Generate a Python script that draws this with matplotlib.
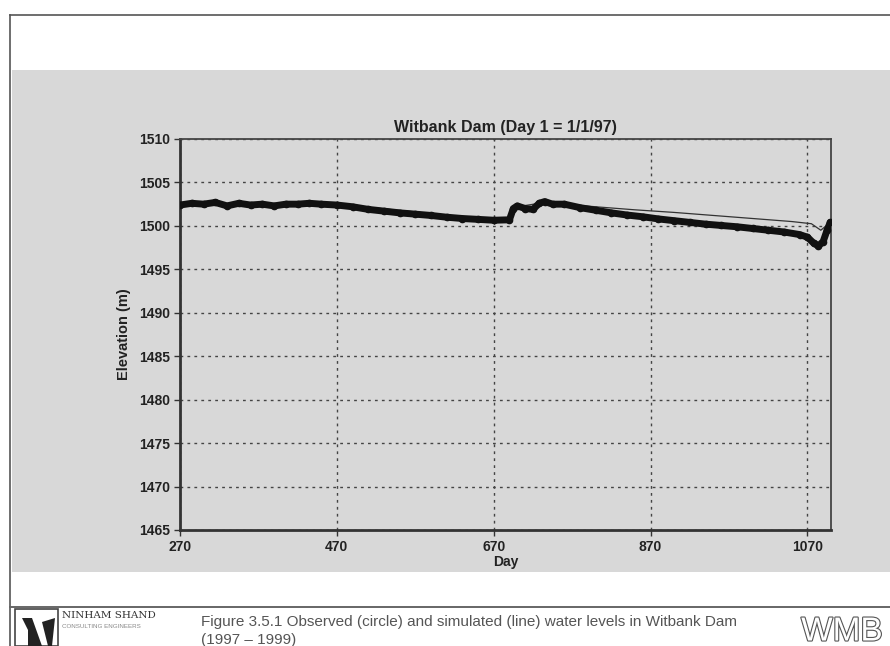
import matplotlib
matplotlib.use("Agg")
import matplotlib.pyplot as plt
from matplotlib.patches import Rectangle, Polygon
from matplotlib.lines import Line2D
import matplotlib.patheffects as pe

plt.rcParams['font.family'] = ['Liberation Sans', 'DejaVu Sans']

# Observed dam levels (circles)
obs_day = [270, 285, 300, 315, 330, 345, 360, 375, 390, 405, 420, 435, 450, 470,
           490, 510, 530, 550, 570, 590, 610, 630, 650, 670, 690, 695, 700, 710,
           720, 728, 735, 745, 760, 780, 800, 820, 840, 860, 880, 900, 920, 940,
           960, 980, 1000, 1020, 1040, 1060, 1070, 1078, 1084, 1090, 1095, 1099]
obs_elev = [1502.4, 1502.6, 1502.5, 1502.7, 1502.3, 1502.6, 1502.4, 1502.5, 1502.3,
            1502.5, 1502.5, 1502.6, 1502.5, 1502.4, 1502.2, 1501.9, 1501.7, 1501.5,
            1501.35, 1501.2, 1501.0, 1500.85, 1500.75, 1500.65, 1500.7, 1502.0,
            1502.3, 1502.0, 1501.9, 1502.6, 1502.8, 1502.5, 1502.5, 1502.1, 1501.8,
            1501.5, 1501.25, 1501.05, 1500.8, 1500.6, 1500.4, 1500.2, 1500.05,
            1499.9, 1499.7, 1499.5, 1499.3, 1499.0, 1498.7, 1498.0, 1497.7, 1498.2,
            1499.5, 1500.4]

# Simulated dam levels (line)
sim_day = [270, 470, 670, 690, 700, 735, 760, 800, 850, 900, 950, 1000, 1050,
           1075, 1087, 1099]
sim_elev = [1502.5, 1502.5, 1500.7, 1500.7, 1502.2, 1502.7, 1502.5, 1502.2,
            1501.85, 1501.55, 1501.2, 1500.85, 1500.5, 1500.25, 1499.5, 1500.4]

x_ticks = [270, 470, 670, 870, 1070]
y_ticks = [1465, 1470, 1475, 1480, 1485, 1490, 1495, 1500, 1505, 1510]

W, H = 890, 646
fig = plt.figure(figsize=(W / 100, H / 100), dpi=100)
fig.patch.set_facecolor('white')


def fx(px):
    return px / W


def fy(py):
    return 1 - py / H


# Page frame and shaded chart panel
fig.add_artist(Rectangle((fx(12), fy(572)), fx(878), (572 - 70) / H,
                         transform=fig.transFigure, facecolor='#d8d8d8',
                         edgecolor='none', zorder=0))
fig.add_artist(Line2D([fx(10), fx(890)], [fy(15), fy(15)], transform=fig.transFigure,
                      color='#555555', lw=1.2))
fig.add_artist(Line2D([fx(10), fx(10)], [fy(15), fy(646)], transform=fig.transFigure,
                      color='#555555', lw=1.2))
fig.add_artist(Line2D([fx(10), fx(890)], [fy(607), fy(607)], transform=fig.transFigure,
                      color='#666666', lw=1.4))

ax = fig.add_axes([fx(180), fy(530), (831 - 180) / W, (530 - 139) / H])
ax.set_facecolor('#d8d8d8')

ax.plot(sim_day, sim_elev, color='#333333', lw=0.9, zorder=3)
ax.plot(obs_day, obs_elev, color='#111111', lw=5.0, marker='o', markersize=4.5,
        markerfacecolor='#111111', markeredgecolor='#111111', zorder=4,
        solid_joinstyle='round', solid_capstyle='round')

ax.set_xlim(270, 1100)
ax.set_ylim(1465, 1510)
ax.set_xticks(x_ticks)
ax.set_yticks(y_ticks)
ax.tick_params(axis='both', labelsize=10, length=4, width=1, color='#333333',
               pad=3)
for lab in ax.get_xticklabels() + ax.get_yticklabels():
    lab.set_fontweight('bold')
    lab.set_color('#222222')

ax.grid(True, color='#444444', linestyle=(0, (2, 3)), lw=1.0)
ax.set_axisbelow(True)
for side in ['left', 'bottom']:
    ax.spines[side].set_linewidth(2.0)
    ax.spines[side].set_color('#333333')
for side in ['top', 'right']:
    ax.spines[side].set_linewidth(1.3)
    ax.spines[side].set_color('#444444')

ax.set_title('Witbank Dam (Day 1 = 1/1/97)', fontsize=11.5, fontweight='bold',
             color='#222222', pad=5)
ax.set_xlabel('Day', fontsize=10, fontweight='bold', color='#222222', labelpad=1)
ax.set_ylabel('Elevation (m)', fontsize=10.5, fontweight='bold', color='#222222',
              labelpad=6)

# Footer: consultant logo, caption and client mark
fig.add_artist(Rectangle((fx(15), fy(646)), fx(43), 37 / H, transform=fig.transFigure,
                         facecolor='white', edgecolor='#444444', lw=1.2))
fig.add_artist(Polygon([(fx(22), fy(618)), (fx(32), fy(618)), (fx(42), fy(646)),
                        (fx(28), fy(646)), (fx(28), fy(630))],
                       closed=True, transform=fig.transFigure,
                       facecolor='#222222', edgecolor='none'))
fig.add_artist(Polygon([(fx(42), fy(622)), (fx(55), fy(618)), (fx(52), fy(646)),
                        (fx(48), fy(646))],
                       closed=True, transform=fig.transFigure,
                       facecolor='#222222', edgecolor='none'))
fig.text(fx(62), fy(616), 'NINHAM SHAND', fontsize=7.5, family='DejaVu Serif',
         color='#333333', va='center', ha='left')
fig.text(fx(62), fy(627), 'CONSULTING ENGINEERS', fontsize=4.5, color='#888888',
         va='center', ha='left')
fig.text(fx(201), fy(622), 'Figure 3.5.1 Observed (circle) and simulated (line) '
         'water levels in Witbank Dam', fontsize=11, color='#555555',
         va='center', ha='left')
fig.text(fx(201), fy(640), '(1997 \u2013 1999)', fontsize=11, color='#555555',
         va='center', ha='left')
fig.text(fx(842), fy(632), 'WMB', fontsize=24, color='white', va='center',
         ha='center',
         path_effects=[pe.withStroke(linewidth=1.6, foreground='#555555')])

fig.savefig('out.png', dpi=100)
